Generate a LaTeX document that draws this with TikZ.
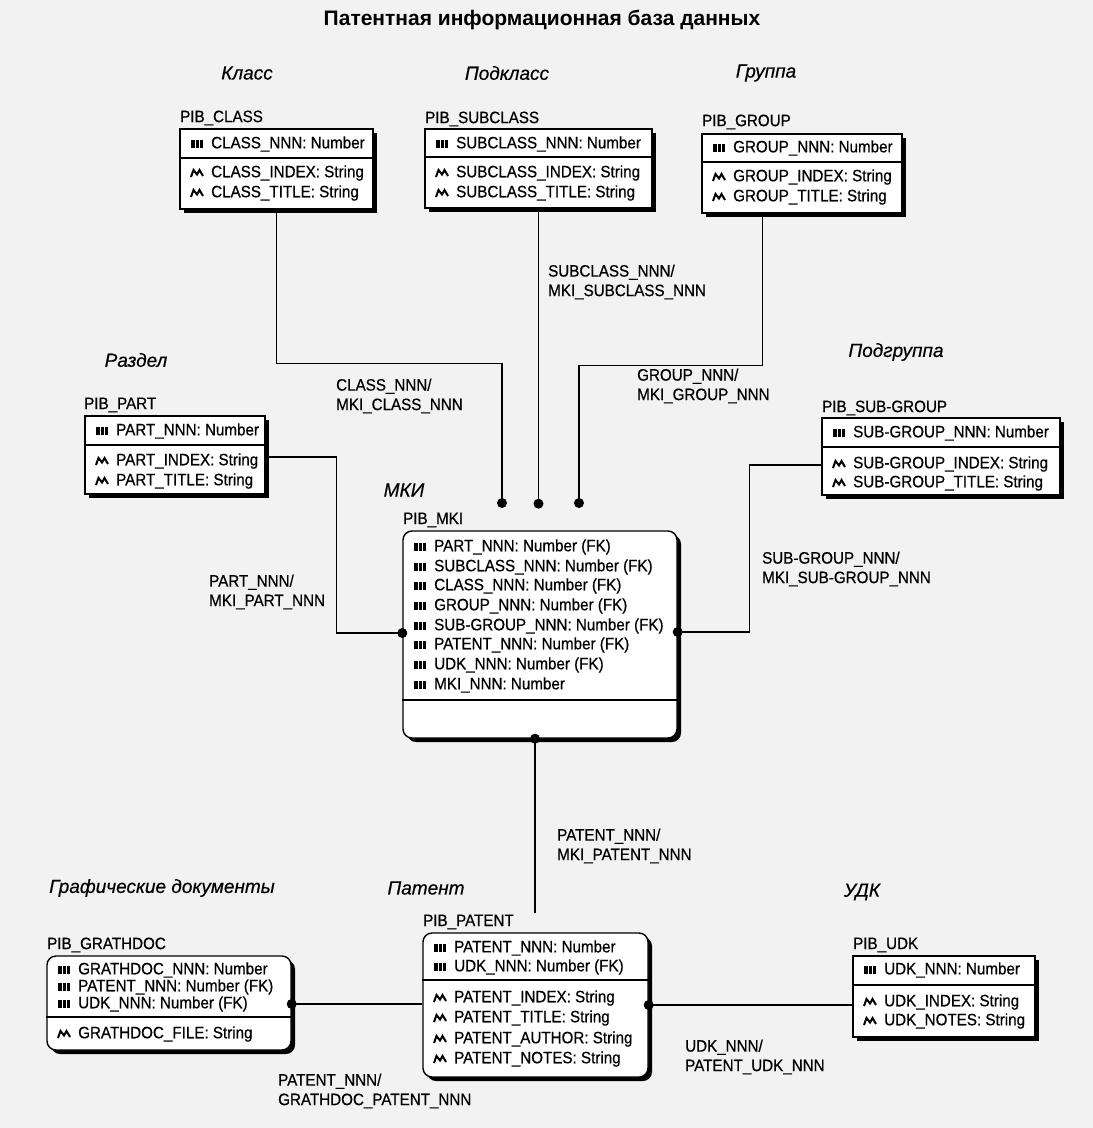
\documentclass[tikz,border=0pt]{standalone}
\usepackage{fontspec}
\setmainfont{Liberation Sans}
\newfontfamily\rf{Liberation Sans}[FakeStretch=0.92,FakeBold=0.6]
\newfontfamily\cf{Liberation Sans}[FakeBold=0.5]
\usetikzlibrary{shadows}
\tikzset{
  keyic/.pic={\fill (-6,-4) rectangle (6,4);
    \draw[white,line width=0.7pt] (-2,-4) -- (-2,4) (2,-4) -- (2,4);},
  attric/.pic={\draw[line width=2pt,line join=miter] (-6,4) -- (-3.5,-3) -- (0,1.5) -- (2.5,-3) -- (6,3);},
}
\newcommand\krow[4]{\node[attr] (#1) at (#2+31,#3) {#4}; \pic at (#2+17,#3) {keyic};}
\newcommand\arow[4]{\node[attr] (#1) at (#2+31,#3) {#4}; \pic at (#2+17,#3) {attric};}
\begin{document}
\begin{tikzpicture}[x=1pt,y=-1pt,
  attr/.style={anchor=west,inner sep=0pt,font=\rf\fontsize{16.5}{19}\selectfont},
  ename/.style={anchor=west,inner sep=0pt,font=\rf\fontsize{16.5}{19}\selectfont},
  capt/.style={inner sep=0pt,font=\cf\fontsize{19}{22}\selectfont\itshape},
  rel/.style={anchor=west,inner sep=0pt,align=left,font=\rf\fontsize{16.5}{19.5}\selectfont},
  ent/.style={draw=black,line width=1.4pt,fill=white,inner sep=0pt,
    drop shadow={shadow xshift=4pt,shadow yshift=-4pt,opacity=1,fill=black}},
  dep/.style={ent,rounded corners=9pt},
  conn/.style={line width=1.4pt},
  divl/.style={line width=1.2pt},
]
\fill[black!5] (0,0) rectangle (1093,1128);
\useasboundingbox (0,0) rectangle (1093,1128);

% title
\node[font=\fontsize{21}{24}\selectfont\bfseries] (title) at (542,20) {Патентная информационная база данных};

% captions
\node[capt] (capcls) at (247,73) {Класс};
\node[capt] (capsub) at (507,73) {Подкласс};
\node[capt] (capgrp) at (766,73) {Группа};
\node[capt] (capprt) at (136,360) {Раздел};
\node[capt] (capsgr) at (896,352) {Подгруппа};
\node[capt] (capmki) at (404,490) {МКИ};
\node[capt] (capgdc) at (162,888) {Графические документы};
\node[capt] (cappat) at (426,888) {Патент};
\node[capt] (capudk) at (862,892) {УДК};

% entity names
\node[ename] (ncls) at (180,118) {PIB\_CLASS};
\node[ename] (nsub) at (425,119) {PIB\_SUBCLASS};
\node[ename] (ngrp) at (702,122) {PIB\_GROUP};
\node[ename] (nprt) at (84,405) {PIB\_PART};
\node[ename] (nsgr) at (822,408) {PIB\_SUB-GROUP};
\node[ename] (nmki) at (403,520) {PIB\_MKI};
\node[ename] (ngdc) at (47,945) {PIB\_GRATHDOC};
\node[ename] (npat) at (423,922) {PIB\_PATENT};
\node[ename] (nudk) at (853,945) {PIB\_UDK};

% boxes
\node[ent,minimum width=193,minimum height=80] (cls) at (276.5,169) {};
\node[ent,minimum width=227,minimum height=79] (sub) at (538.5,168.5) {};
\node[ent,minimum width=200,minimum height=79] (grp) at (802,173.5) {};
\node[ent,minimum width=180,minimum height=78] (prt) at (175,455) {};
\node[ent,minimum width=238,minimum height=77] (sgr) at (941,456.5) {};
\node[dep,minimum width=274,minimum height=207] (mki) at (540,634.5) {};
\node[dep,minimum width=244,minimum height=94] (gdc) at (169,1003) {};
\node[dep,minimum width=225,minimum height=144] (pat) at (535.5,1005) {};
\node[ent,minimum width=182,minimum height=81] (udk) at (944,996.5) {};

% dividers
\draw[divl] (cls.west |- 0,158) -- (cls.east |- 0,158);
\draw[divl] (sub.west |- 0,157) -- (sub.east |- 0,157);
\draw[divl] (grp.west |- 0,162) -- (grp.east |- 0,162);
\draw[divl] (prt.west |- 0,445) -- (prt.east |- 0,445);
\draw[divl] (sgr.west |- 0,447) -- (sgr.east |- 0,447);
\draw[divl] (mki.west |- 0,700) -- (mki.east |- 0,700);
\draw[divl] (gdc.west |- 0,1017) -- (gdc.east |- 0,1017);
\draw[divl] (pat.west |- 0,980) -- (pat.east |- 0,980);
\draw[divl] (udk.west |- 0,985) -- (udk.east |- 0,985);

% rows
\krow{cls1}{180}{144}{CLASS\_NNN: Number}
\arow{cls2}{180}{173}{CLASS\_INDEX: String}
\arow{cls3}{180}{193}{CLASS\_TITLE: String}

\krow{sub1}{425}{144}{SUBCLASS\_NNN: Number}
\arow{sub2}{425}{173}{SUBCLASS\_INDEX: String}
\arow{sub3}{425}{193}{SUBCLASS\_TITLE: String}

\krow{grp1}{702}{148}{GROUP\_NNN: Number}
\arow{grp2}{702}{177}{GROUP\_INDEX: String}
\arow{grp3}{702}{197}{GROUP\_TITLE: String}

\krow{prt1}{85}{431}{PART\_NNN: Number}
\arow{prt2}{85}{461}{PART\_INDEX: String}
\arow{prt3}{85}{481}{PART\_TITLE: String}

\krow{sgr1}{822}{433}{SUB-GROUP\_NNN: Number}
\arow{sgr2}{822}{464}{SUB-GROUP\_INDEX: String}
\arow{sgr3}{822}{483}{SUB-GROUP\_TITLE: String}

\krow{mki1}{403}{547}{PART\_NNN: Number (FK)}
\krow{mki2}{403}{567}{SUBCLASS\_NNN: Number (FK)}
\krow{mki3}{403}{586}{CLASS\_NNN: Number (FK)}
\krow{mki4}{403}{606}{GROUP\_NNN: Number (FK)}
\krow{mki5}{403}{626}{SUB-GROUP\_NNN: Number (FK)}
\krow{mki6}{403}{645}{PATENT\_NNN: Number (FK)}
\krow{mki7}{403}{665}{UDK\_NNN: Number (FK)}
\krow{mki8}{403}{685}{MKI\_NNN: Number}

\krow{gdc1}{47}{970}{GRATHDOC\_NNN: Number}
\krow{gdc2}{47}{987}{PATENT\_NNN: Number (FK)}
\krow{gdc3}{47}{1004}{UDK\_NNN: Number (FK)}
\arow{gdc4}{47}{1034}{GRATHDOC\_FILE: String}

\krow{pat1}{423}{948}{PATENT\_NNN: Number}
\krow{pat2}{423}{967}{UDK\_NNN: Number (FK)}
\arow{pat3}{423}{998}{PATENT\_INDEX: String}
\arow{pat4}{423}{1018}{PATENT\_TITLE: String}
\arow{pat5}{423}{1039}{PATENT\_AUTHOR: String}
\arow{pat6}{423}{1059}{PATENT\_NOTES: String}

\krow{udk1}{853}{970}{UDK\_NNN: Number}
\arow{udk2}{853}{1002}{UDK\_INDEX: String}
\arow{udk3}{853}{1021}{UDK\_NOTES: String}

% connectors
\coordinate (d1) at (502,503);
\coordinate (d3) at (579,503);
\draw[conn] (cls.south) -- ++(0,154) -| (d1);
\draw[conn] (sub.south) -- ++(0,295) coordinate (d2);
\draw[conn] (grp.south west) ++(61,0) -- ++(0,152) -| (d3);
\fill (d1) circle (5pt) (d2) circle (5pt) (d3) circle (5pt);

\draw[conn] (prt.east |- 0,457) -- ++(71,0) |- (mki.west |- 0,633);
\fill (mki.west |- 0,633) circle (5pt);
\draw[conn] (sgr.west |- 0,465) -- ++(-72,0) |- (mki.east |- 0,632);
\fill (mki.east |- 0,632) circle (5pt);

\coordinate (pe) at (535,913);
\draw[conn] (mki.south -| pe) -- (pe);
\fill (mki.south -| pe) circle (5pt);

\draw[conn] (gdc.east |- 0,1004) -- (pat.west |- 0,1004);
\fill (gdc.east |- 0,1004) circle (5pt);
\draw[conn] (pat.east |- 0,1005) -- (udk.west |- 0,1005);
\fill (pat.east |- 0,1005) circle (5pt);

% relationship labels
\node[rel] (rcls) at (336,396) {CLASS\_NNN/\\MKI\_CLASS\_NNN};
\node[rel] (rsub) at (548,282) {SUBCLASS\_NNN/\\MKI\_SUBCLASS\_NNN};
\node[rel] (rgrp) at (637,386) {GROUP\_NNN/\\MKI\_GROUP\_NNN};
\node[rel] (rprt) at (209,592) {PART\_NNN/\\MKI\_PART\_NNN};
\node[rel] (rsgr) at (762,569) {SUB-GROUP\_NNN/\\MKI\_SUB-GROUP\_NNN};
\node[rel] (rpat) at (557,846) {PATENT\_NNN/\\MKI\_PATENT\_NNN};
\node[rel] (rudk) at (685,1057) {UDK\_NNN/\\PATENT\_UDK\_NNN};
\node[rel] (rgdc) at (278,1091) {PATENT\_NNN/\\GRATHDOC\_PATENT\_NNN};
\end{tikzpicture}
\end{document}
